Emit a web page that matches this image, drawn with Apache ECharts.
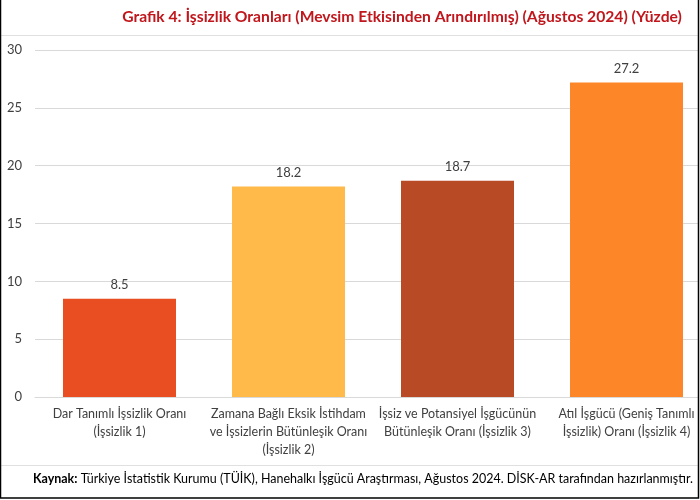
<!DOCTYPE html>
<html><head><meta charset="utf-8">
<script src="https://cdn.jsdelivr.net/npm/echarts@6/dist/echarts.min.js"></script>
<style>html,body{margin:0;padding:0;background:#fff;overflow:hidden;width:700px;height:500px}#c{width:712px;height:500px}</style>
</head><body><div id="c"></div>
<script>
const categories = [
  "Dar Tanımlı İşsizlik Oranı\n(İşsizlik 1)",
  "Zamana Bağlı Eksik İstihdam\nve İşsizlerin Bütünleşik Oranı\n(İşsizlik 2)",
  "İşsiz ve Potansiyel İşgücünün\nBütünleşik Oranı (İşsizlik 3)",
  "Atıl İşgücü (Geniş Tanımlı\nİşsizlik) Oranı (İşsizlik 4)"
];
const values = [8.5, 18.2, 18.7, 27.2];
const barColors = ["#E84E22", "#FFBA4A", "#B94A26", "#FD8628"];
const titleText = "Grafik 4: İşsizlik Oranları (Mevsim Etkisinden Arındırılmış) (Ağustos 2024) (Yüzde)";
const sourceBold = "Kaynak:";
const sourceText = " Türkiye İstatistik Kurumu (TÜİK), Hanehalkı İşgücü Araştırması, Ağustos 2024. DİSK-AR tarafından hazırlanmıştır.";

const FONT = "Lato, 'Open Sans', sans-serif";
const cv = document.createElement('canvas').getContext('2d');
function fitSize(parts, target) {
  let w = 0;
  parts.forEach(([t, wt]) => { cv.font = wt + ' 100px ' + FONT; w += cv.measureText(t).width; });
  return Math.min(18, 100 * target / w);
}
const titleSize = fitSize([[titleText, 'bold']], 560);
const srcSize = fitSize([[sourceBold, 'bold'], [sourceText, 'normal']], 660);

const chart = echarts.init(document.getElementById('c'), null, {renderer: 'canvas'});
chart.setOption({
  animation: false,
  backgroundColor: '#fff',
  title: {
    text: titleText, left: 397, top: 14 - titleSize * 0.65, textAlign: 'center',
    textStyle: {fontFamily: FONT, fontSize: titleSize, fontWeight: 'bold', color: '#C0161C'}
  },
  grid: {left: 35, top: 50, width: 676, height: 347, containLabel: false},
  xAxis: {
    type: 'category', data: categories,
    axisLine: {show: true, lineStyle: {color: '#D9D9D9', width: 1}},
    axisTick: {show: false},
    axisLabel: {interval: 0, margin: 8, fontFamily: FONT, fontSize: 12.5, color: '#404040', lineHeight: 18}
  },
  yAxis: {
    type: 'value', min: 0, max: 30, interval: 5,
    axisLine: {show: false}, axisTick: {show: false},
    splitLine: {lineStyle: {color: '#D9D9D9', width: 1}},
    axisLabel: {margin: 13, fontFamily: FONT, fontSize: 13, color: '#404040'}
  },
  series: [{
    type: 'bar', barWidth: 113,
    data: values.map((v, i) => ({value: v, itemStyle: {color: barColors[i]}})),
    label: {show: true, position: 'top', distance: 7, fontFamily: FONT, fontSize: 13, color: '#404040',
            formatter: p => p.value.toFixed(1)}
  }],
  graphic: [
    {type: 'line', shape: {x1: 0, y1: 35.5, x2: 700, y2: 35.5}, style: {stroke: '#E0E0E0', lineWidth: 1}},
    {type: 'line', shape: {x1: 0, y1: 465.5, x2: 700, y2: 465.5}, style: {stroke: '#E0E0E0', lineWidth: 1}},
    {type: 'text', left: 33, top: 481 - srcSize * 0.65, style: {
      rich: {b: {fontWeight: 'bold', fontFamily: FONT, fontSize: srcSize, fill: '#000'}, n: {fontFamily: FONT, fontSize: srcSize, fill: '#000'}},
      text: '{b|' + sourceBold + '}{n|' + sourceText + '}'
    }},
    {type: 'rect', z: 100, shape: {x: 698.5, y: -5, width: 20, height: 520}, style: {fill: '#fff', stroke: 'none'}},
    {type: 'rect', z: 101, shape: {x: 0.5, y: -5, width: 698, height: 503}, style: {fill: 'none', stroke: '#000', lineWidth: 1.5}}
  ]
});
</script></body></html>
